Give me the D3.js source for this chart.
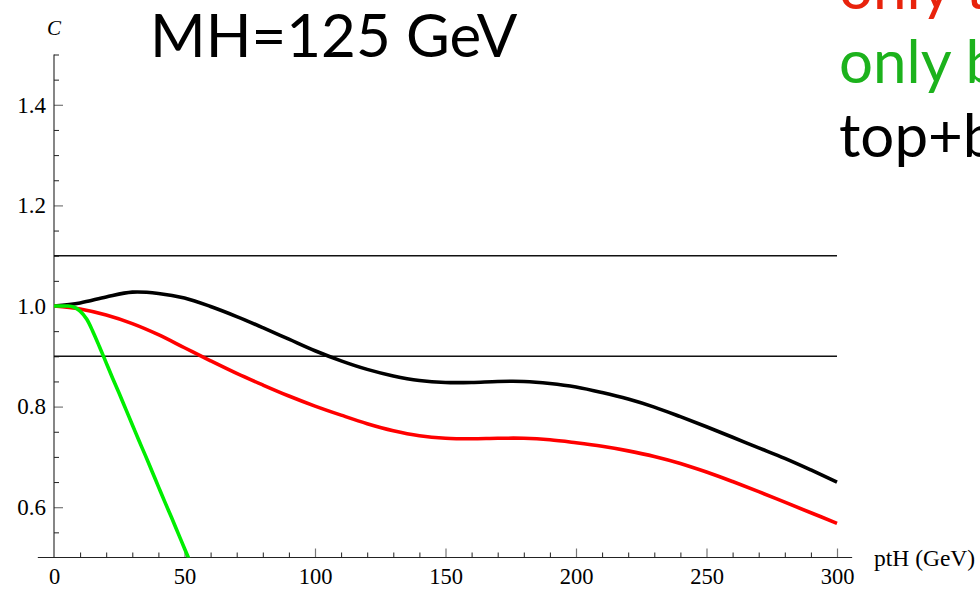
<!DOCTYPE html>
<html>
<head>
<meta charset="utf-8">
<script src="https://cdn.jsdelivr.net/npm/d3@7"></script>
<style>
  body { margin: 0; background: #fff; overflow: hidden; }
  svg { display: block; }
</style>
</head>
<body>
<svg id="chart" width="980" height="589"></svg>
<script>
// Higgs transverse-momentum grid (GeV) for the top and top+bottom curves
const ptH = [0, 10, 20, 30, 40, 50, 60, 70, 80, 90, 100, 110, 120, 130, 140, 150,
             160, 170, 180, 190, 200, 210, 220, 230, 240, 250, 260, 270, 280, 290, 300];
// C for the full top+bottom loop
const topBottom = [1.000, 1.006, 1.018, 1.0275, 1.025, 1.016, 0.999, 0.979, 0.957, 0.934,
                   0.911, 0.891, 0.874, 0.861, 0.852, 0.848, 0.848, 0.850, 0.850, 0.846,
                   0.839, 0.828, 0.815, 0.799, 0.780, 0.760, 0.739, 0.718, 0.697, 0.674, 0.650];
// C with only the top quark in the loop
const onlyTop = [1.000, 0.994, 0.982, 0.965, 0.943, 0.917, 0.891, 0.866, 0.843, 0.821,
                 0.801, 0.783, 0.766, 0.752, 0.742, 0.737, 0.736, 0.737, 0.737, 0.734,
                 0.728, 0.721, 0.712, 0.701, 0.687, 0.670, 0.651, 0.631, 0.610, 0.589, 0.568];
// finer grid for the bottom-only curve, which falls off quickly
const ptHBottom = [0, 2.5, 5, 7.5, 10, 12.5, 15, 17.5, 20, 22.5, 25, 27.5, 30,
                   32.5, 35, 37.5, 40, 42.5, 45, 47.5, 50, 52.5];
const onlyBottom = [1.000, 1.000, 1.000, 0.998, 0.990, 0.974, 0.948, 0.918, 0.887, 0.856,
                    0.826, 0.795, 0.764, 0.733, 0.703, 0.672, 0.641, 0.610, 0.580, 0.549,
                    0.518, 0.487];

const xMajorTicks = [0, 50, 100, 150, 200, 250, 300];
const xMinorTicks = [10, 20, 30, 40, 60, 70, 80, 90, 110, 120, 130, 140, 160, 170, 180, 190,
                     210, 220, 230, 240, 260, 270, 280, 290];
const yMajorTicks = [0.6, 0.8, 1.0, 1.2, 1.4];
const yMinorTicks = [0.55, 0.65, 0.7, 0.75, 0.85, 0.9, 0.95, 1.05, 1.1, 1.15,
                     1.25, 1.3, 1.35, 1.45, 1.5];
const bandEdges = [0.9, 1.1];
const legendLabels = ["only top", "only bottom", "top+bottom"];
const legendColors = ["#e8230c", "#1cb21c", "#000000"];
const titleText = "MH=125 GeV";
const xAxisTitle = "ptH (GeV)";
const yAxisTitle = "C";

const svg = d3.select("#chart");
const serif = "'Liberation Serif', 'DejaVu Serif', serif";
const sans = "Lato, 'Open Sans', sans-serif";

const x = d3.scaleLinear().domain([0, 300]).range([54, 837]);
const y = d3.scaleLinear().domain([0.5, 1.5]).range([557.5, 54.5]);

// clip the curves to the plotted range
svg.append("defs").append("clipPath").attr("id", "plotClip")
  .append("rect")
  .attr("x", x(0)).attr("y", y(1.5))
  .attr("width", x(300) - x(0) + 20).attr("height", y(0.5) - y(1.5));

// x axis: minor ticks, then major ticks with labels
const gx = svg.append("g").attr("transform", `translate(0,${y(0.5)})`);
gx.append("g")
  .call(d3.axisBottom(x).tickValues(xMinorTicks).tickSize(-5).tickFormat(""))
  .call(g => g.select(".domain").remove())
  .call(g => g.selectAll("line").attr("stroke", "#222").attr("stroke-width", 1));
gx.append("g")
  .call(d3.axisBottom(x).tickValues(xMajorTicks).tickSize(-9).tickPadding(11).tickFormat(d3.format("d")))
  .call(g => g.select(".domain").remove())
  .call(g => g.selectAll("line").attr("stroke", "#777").attr("stroke-width", 1.2)
                .filter(d => d === 0).remove())
  .call(g => g.selectAll("text").attr("font-family", serif).attr("font-size", 22.5).attr("fill", "#000"));
gx.append("line")
  .attr("x1", x(-6.2)).attr("x2", x(305.8))
  .attr("stroke", "#222").attr("stroke-width", 1.1);

// y axis
const gy = svg.append("g").attr("transform", `translate(${x(0)},0)`);
gy.append("g")
  .call(d3.axisLeft(y).tickValues(yMinorTicks).tickSize(-5).tickFormat(""))
  .call(g => g.select(".domain").remove())
  .call(g => g.selectAll("line").attr("stroke", "#222").attr("stroke-width", 1));
gy.append("g")
  .call(d3.axisLeft(y).tickValues(yMajorTicks).tickSize(-9).tickPadding(8).tickFormat(d3.format(".1f")))
  .call(g => g.select(".domain").remove())
  .call(g => g.selectAll("line").attr("stroke", "#777").attr("stroke-width", 1.2))
  .call(g => g.selectAll("text").attr("font-family", serif).attr("font-size", 23).attr("fill", "#000"));
gy.append("line")
  .attr("y1", y(1.5)).attr("y2", y(0.5))
  .attr("stroke", "#222").attr("stroke-width", 1.1);

// axis titles
svg.append("text")
  .attr("x", x(0)).attr("y", 35)
  .attr("text-anchor", "middle")
  .attr("font-family", serif).attr("font-style", "italic").attr("font-size", 21)
  .text(yAxisTitle);
svg.append("text")
  .attr("x", 874).attr("y", y(0.5) + 8)
  .attr("font-family", serif).attr("font-size", 23.5)
  .text(xAxisTitle);

// 10% band around C = 1
svg.append("g").selectAll("line")
  .data(bandEdges)
  .join("line")
  .attr("x1", x(0)).attr("x2", x(300))
  .attr("y1", d => y(d)).attr("y2", d => y(d))
  .attr("stroke", "#111").attr("stroke-width", 1.5);

// curves
const lineGen = d3.line().curve(d3.curveCatmullRom.alpha(0.5));
const curves = [
  { xs: ptH, ys: topBottom, color: "#000000" },
  { xs: ptH, ys: onlyTop, color: "#ff0000" },
  { xs: ptHBottom, ys: onlyBottom, color: "#00ee00" }
];
svg.append("g").attr("clip-path", "url(#plotClip)")
  .selectAll("path")
  .data(curves)
  .join("path")
  .attr("fill", "none")
  .attr("stroke", d => d.color)
  .attr("stroke-width", 3.6)
  .attr("d", d => lineGen(d.xs.map((v, i) => [x(v), y(d.ys[i])])));

// title
svg.append("text")
  .attr("x", 150).attr("y", 57)
  .attr("font-family", sans).attr("font-size", 60)
  .attr("fill", "#000")
  .text(titleText);

// legend labels, running off the right edge
svg.append("g").selectAll("text")
  .data(legendLabels)
  .join("text")
  .attr("x", 839)
  .attr("y", (d, i) => 9 + i * 74)
  .attr("font-family", sans).attr("font-size", 60)
  .attr("fill", (d, i) => legendColors[i])
  .text(d => d);
</script>
</body>
</html>
